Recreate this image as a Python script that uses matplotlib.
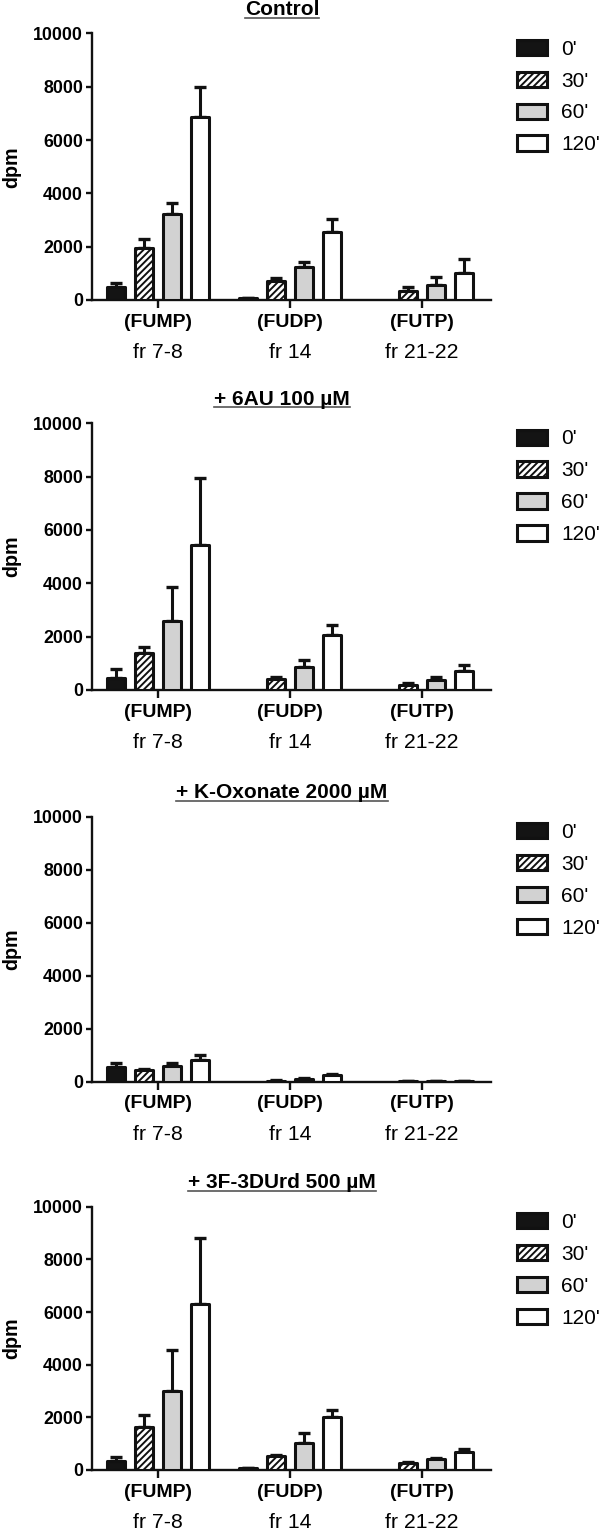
import numpy as np
import matplotlib
matplotlib.use("Agg")
import matplotlib.pyplot as plt

plt.rcParams['font.family'] = ['Liberation Sans', 'DejaVu Sans']
plt.rcParams['hatch.linewidth'] = 1.4

# --- data (dpm) ---
groups = ['(FUMP)', '(FUDP)', '(FUTP)']
fractions = ['fr 7-8', 'fr 14', 'fr 21-22']
times = ["0'", "30'", "60'", "120'"]
titles = ['Control', '+ 6AU 100 µM', '+ K-Oxonate 2000 µM', '+ 3F-3DUrd 500 µM']

# rows = time points, columns = groups
control_mean = [[480, 60, 0], [1950, 730, 340], [3230, 1250, 570], [6860, 2540, 1000]]
control_err = [[170, 20, 0], [330, 90, 130], [420, 160, 290], [1150, 500, 520]]

au6_mean = [[440, 0, 0], [1400, 430, 190], [2600, 880, 370], [5420, 2050, 710]]
au6_err = [[350, 0, 0], [200, 40, 60], [1250, 250, 100], [2530, 380, 220]]

oxonate_mean = [[560, 0, 0], [440, 30, 15], [600, 110, 15], [810, 240, 15]]
oxonate_err = [[120, 0, 0], [30, 10, 5], [80, 20, 5], [180, 60, 5]]

durd_mean = [[350, 60, 0], [1620, 520, 250], [3010, 1020, 400], [6320, 2000, 680]]
durd_err = [[150, 30, 0], [460, 40, 40], [1560, 400, 40], [2490, 290, 100]]

panels = [(control_mean, control_err), (au6_mean, au6_err),
          (oxonate_mean, oxonate_err), (durd_mean, durd_err)]

# --- styling ---
fills = ['#141414', 'white', '#d2d2d2', 'white']
hatches = [None, '/////', None, None]
bar_w = 0.142
step = 0.212
ink = '#111111'

W, H = 600, 1530
fig = plt.figure(figsize=(W / 100, H / 100), dpi=100)

ax_left_px, ax_right_px = 92, 491
ax_top_px = [33.5, 423.3, 816.7, 1206.7]
ax_bot_px = [300, 690, 1081.5, 1470]

x = np.arange(len(groups))
axes = []
for p, (means, errs) in enumerate(panels):
    ax = fig.add_axes([ax_left_px / W, 1 - ax_bot_px[p] / H,
                       (ax_right_px - ax_left_px) / W,
                       (ax_bot_px[p] - ax_top_px[p]) / H])
    axes.append(ax)
    means = np.array(means, dtype=float)
    errs = np.array(errs, dtype=float)
    # no bar at all where nothing was measured
    means = np.where(means == 0, np.nan, means)
    bars = []
    for i in range(len(times)):
        xi = x + (i - 1.5) * step
        b = ax.bar(xi, means[i], width=bar_w, color=fills[i], edgecolor=ink,
                   linewidth=2.2, hatch=hatches[i], joinstyle='round',
                   zorder=3, label=times[i])
        bars.append(b)
        ax.errorbar(xi, means[i], yerr=[np.zeros(3), errs[i]], fmt='none',
                    ecolor=ink, elinewidth=2.2, capsize=4.5, capthick=2.4,
                    zorder=2)

    ax.set_xlim(-0.5, 2.523)
    ax.set_ylim(0, 10000)
    ax.set_yticks(np.arange(0, 10001, 2000))
    ax.set_yticklabels([str(v) for v in range(0, 10001, 2000)],
                       fontweight='bold', fontsize=12.8)
    ax.set_xticks(x)
    ax.set_xticklabels(groups, fontweight='bold', fontsize=14)
    for s in ['top', 'right']:
        ax.spines[s].set_visible(False)
    for s in ['left', 'bottom']:
        ax.spines[s].set_linewidth(1.7)
        ax.spines[s].set_color(ink)
    ax.tick_params(axis='y', length=4.5, width=1.7, pad=2, color=ink)
    ax.tick_params(axis='x', length=6, width=1.7, pad=4, color=ink)

    for xi, fr in zip(x, fractions):
        ax.annotate(fr, xy=(xi, 0), xycoords=('data', 'axes fraction'),
                    xytext=(0, -38), textcoords='offset points',
                    ha='center', va='center', fontsize=15.3)

    ax.set_ylabel('dpm', fontweight='bold', fontsize=14.2)
    ax.yaxis.set_label_coords(-0.178, 0.5)

    ax.set_title(titles[p], fontweight='bold', fontsize=15,
                 x=(282 - ax_left_px) / (ax_right_px - ax_left_px), pad=13.3)

    ax.legend(handles=bars, labels=times, loc='upper left',
              bbox_to_anchor=(1.066, 0.977), frameon=False, fontsize=15,
              handlelength=1.41, handleheight=0.75, handletextpad=0.7,
              labelspacing=0.62, borderpad=0, borderaxespad=0)

# underline the titles
fig.canvas.draw()
renderer = fig.canvas.get_renderer()
for p, ax in enumerate(axes):
    bb = ax.title.get_window_extent(renderer)
    inv = ax.transAxes.inverted()
    x0, _ = inv.transform((bb.x0, 0))
    x1, _ = inv.transform((bb.x1, 0))
    h_px = ax_bot_px[p] - ax_top_px[p]
    yl = 1 + (13.3 * 100 / 72 - 2.5) / h_px
    ax.plot([x0, x1], [yl, yl], transform=ax.transAxes, clip_on=False,
            color='#555555', lw=1.2)

fig.savefig('out.png', dpi=100, facecolor='white')
